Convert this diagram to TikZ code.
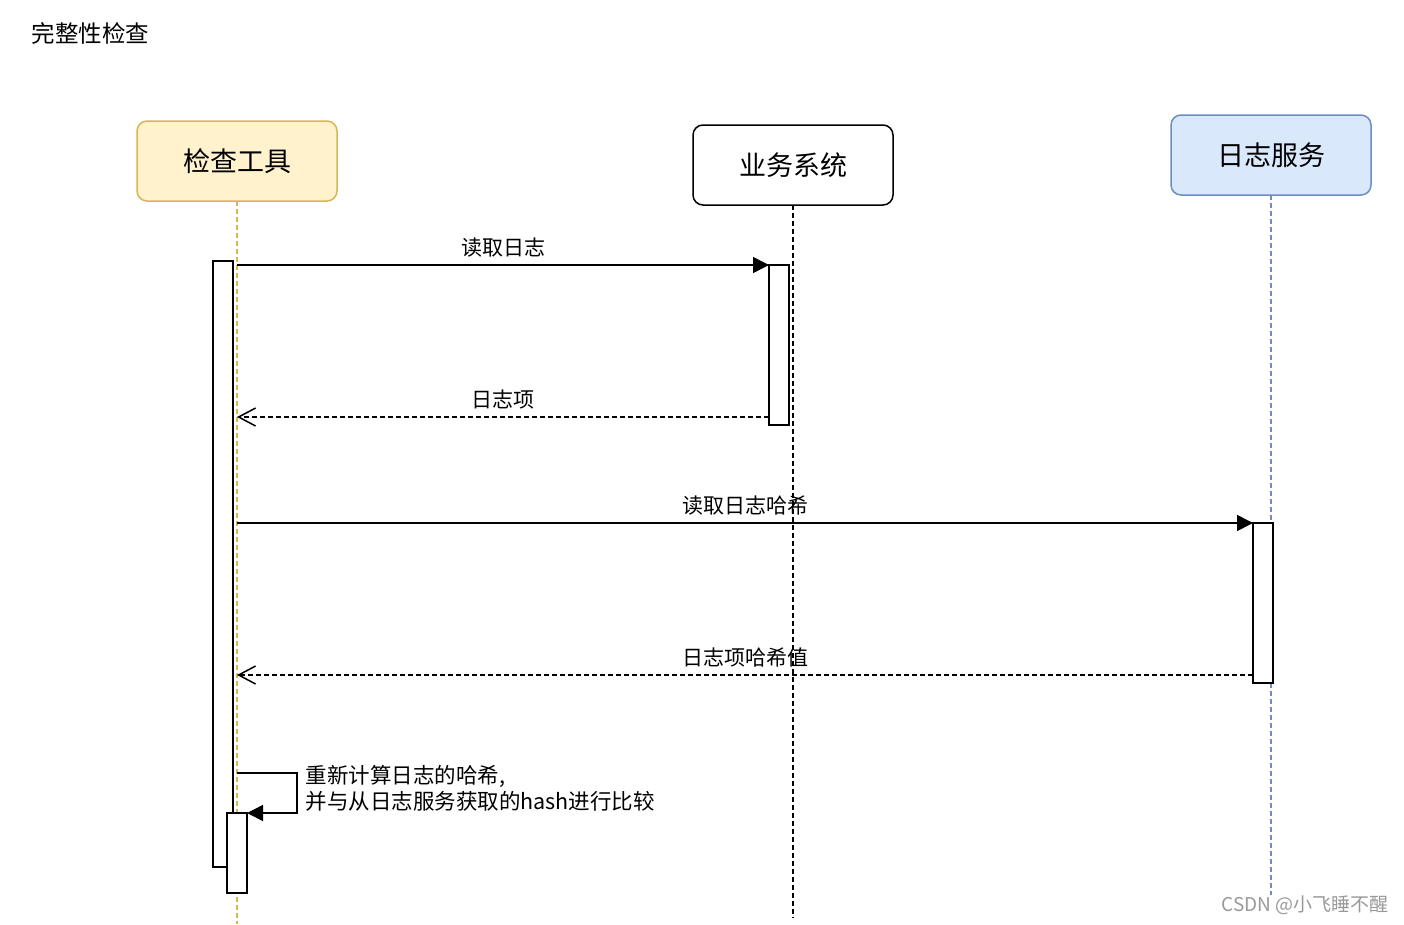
\documentclass[tikz,border=0pt]{standalone}
\usepackage{fontspec}
\setmainfont{Noto Sans CJK SC}
\usetikzlibrary{arrows.meta,positioning}
\definecolor{toolfill}{HTML}{FFF2CC}
\definecolor{tooldraw}{HTML}{D6B656}
\definecolor{logfill}{HTML}{DAE8FC}
\definecolor{logdraw}{HTML}{6C8EBF}
\tikzset{
    actor/.style={draw, rounded corners=10pt, minimum width=200pt, minimum height=80pt,
        line width=1.5pt, outer sep=0pt, font=\fontsize{27}{32}\selectfont},
    lifeline/.style={line width=1.5pt, dash pattern=on 5pt off 3pt},
    activation/.style={draw, fill=white, minimum width=20pt, inner sep=0pt, outer sep=0pt,
        line width=1.5pt},
    call/.style={-{Triangle[length=16pt,width=16pt]}, line width=1.5pt},
    reply/.style={-{Straight Barb[length=17pt,width=18pt,line width=1.5pt]}, line width=1.5pt,
        dash pattern=on 5pt off 3pt},
    msglabel/.style={font=\fontsize{21}{24}\selectfont, above=4pt}
}

\begin{document}
\begin{tikzpicture}[x=1pt,y=-1pt]
    \useasboundingbox (0,0) rectangle (1404,924);
    \node[anchor=west, font=\fontsize{23.5}{28}\selectfont] (title) at (28,33) {完整性检查};

    \node[actor, fill=toolfill, draw=tooldraw] (tool) at (237,161) {检查工具};
    \node[actor, fill=white, draw=black] (biz) at (793,165) {业务系统};
    \node[actor, fill=logfill, draw=logdraw] (log) at (1271,155) {日志服务};

    \coordinate (toolend) at (237,924);
    \coordinate (bizend) at (793,918);
    \coordinate (logend) at (1271,895);
    \draw[lifeline, draw=tooldraw] (tool.south) -- (toolend);
    \draw[lifeline, draw=black] (biz.south) -- (bizend);
    \draw[lifeline, draw=logdraw] (log.south) -- (logend);

    \node[activation, minimum height=606pt] (toolact) at (223,564) {};
    \node[activation, minimum height=160pt] (bizact) at (779,345) {};
    \node[activation, minimum height=160pt] (logact) at (1263,603) {};
    \node[activation, minimum height=80pt] (selfact) at (237,853) {};

    \coordinate (ask1) at (237,265);
    \coordinate (back1) at (237,417);
    \coordinate (ask2) at (237,523);
    \coordinate (back2) at (237,675);
    \draw[call] (ask1) -- (bizact.north west) node[msglabel, midway] {读取日志};
    \draw[reply] (bizact.south west |- back1) -- (back1) node[msglabel, midway] {日志项};
    \draw[call] (ask2) -- (logact.north west) node[msglabel, midway] {读取日志哈希};
    \draw[reply] (logact.south west |- back2) -- (back2) node[msglabel, midway] {日志项哈希值};

    \coordinate (self) at (237,773);
    \draw[call] (self) -- (297,773) -- (297,813) -- (selfact.north east);
    \node[anchor=west, align=left, font=\fontsize{21.5}{26}\selectfont] (selflabel) at (302,788)
        {重新计算日志的哈希,\\并与从日志服务获取的hash进行比较};

    \node[anchor=east, text=black!40, font=\fontsize{19}{22}\selectfont] (mark) at (1392,905)
        {CSDN @小飞睡不醒};
\end{tikzpicture}
\end{document}
